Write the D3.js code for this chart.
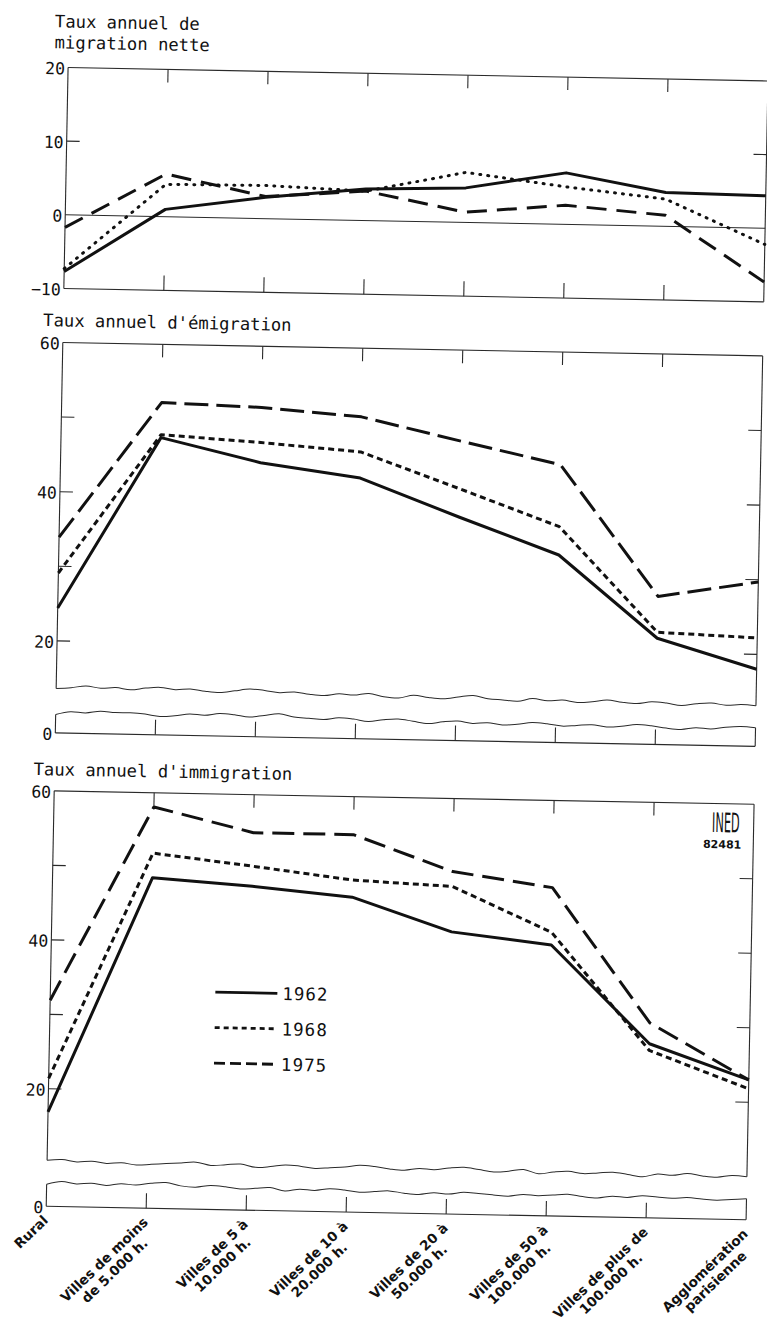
<!DOCTYPE html>
<html>
<head>
<meta charset="utf-8">
<script src="https://cdn.jsdelivr.net/npm/d3@7"></script>
<style>
  body { margin: 0; background: #fff; }
  svg { display: block; }
</style>
</head>
<body>
<div id="chart"></div>
<script>
"use strict";

// categories (each entry = lines of the rotated x label)
var categories = [
  ["Rural"],
  ["Villes de moins", "de 5.000 h."],
  ["Villes de 5 à", "10.000 h."],
  ["Villes de 10 à", "20.000 h."],
  ["Villes de 20 à", "50.000 h."],
  ["Villes de 50 à", "100.000 h."],
  ["Villes de plus de", "100.000 h."],
  ["Agglomération", "parisienne"]
];
var years = ["1962", "1968", "1975"];

// taux annuel de migration nette
var net1962 = [-7.7, 1.0, 2.9, 4.3, 4.7, 7.0, 4.6, 4.4];
var net1968 = [-7.3, 4.4, 4.5, 4.0, 6.8, 5.1, 3.7, -2.2];
var net1975 = [-1.7, 5.8, 3.0, 4.0, 1.4, 2.6, 1.5, -7.3];

// taux annuel d'emigration
var emi1962 = [24.4, 47.5, 44.4, 42.6, 37.6, 32.8, 21.9, 18.0];
var emi1968 = [29.1, 47.9, 47.1, 46.1, 41.4, 36.6, 22.7, 22.2];
var emi1975 = [33.9, 52.2, 51.8, 50.8, 47.8, 44.9, 27.5, 29.7];

// taux annuel d'immigration
var imm1962 = [16.9, 48.6, 47.7, 46.5, 42.1, 40.6, 27.6, 23.0];
var imm1968 = [21.4, 51.9, 50.4, 48.8, 48.2, 42.3, 26.7, 21.8];
var imm1975 = [31.9, 58.1, 54.9, 54.9, 50.2, 48.3, 30.4, 23.0];

// tick labels
var netTickLabels = [20, 10, 0, -10];
var netMinorTicks = [10];
var rateTickLabels = [60, 40, 20];
var rateMinorTicks = [50, 40, 30, 20];

// hand drawn axis-break lines (pixel offsets)
var waveEmiTop = [0, -1, -3, -1, -2, 0, -2, -3, -1, -2, 0, 1, -1, -3, -2, 0, -1, 1, 2, 0, 1, -1, 2, 3, 0, 2, 3, 1, -1, 2, 3, 4, 1, 3, 2, 4, 3, 1, 3, 4, 2, 3, 5, 3, 2, 4, 3, 4];
var waveEmiBot = [0, -3, -2, -4, -3, -3, -2, 0, -1, -3, -2, -4, -3, -1, -3, -5, -2, -1, 0, -2, -1, 1, -1, -2, 0, 2, 0, -1, 1, 0, 2, 1, -1, 0, 2, 1, 0, 2, 1, -1, 0, 2, 3, 1, 2, 0, -1, 0];
var waveImmTop = [0, -1, 1, 0, 2, 1, 3, 2, 1, 0, -1, 2, 1, 0, 3, 2, 0, 1, 3, 2, 1, -1, 0, 2, 3, 1, 2, 0, -1, 1, 3, 2, 0, 4, 2, 1, 3, 2, 1, 3, 5, 2, 3, 1, 3, 4, 2, 3];
var waveImmBot = [0, -3, -1, -2, 0, -2, -1, -3, -4, -1, 0, -2, -1, 1, 0, -1, 2, 0, 1, -1, 0, 2, 1, 0, 2, 3, 1, 2, 0, 1, 2, 3, 1, 2, 1, 0, 2, 3, 1, 2, 0, 1, 2, 1, 2, 3, 2, 1];

var W = 767, H = 1327;
var X0 = 56, X1 = 756;

var svg = d3.select("#chart").append("svg")
  .attr("width", W)
  .attr("height", H)
  .attr("style", "background:#fff;");

// the printed page is scanned slightly skewed
var root = svg.append("g").attr("transform", "rotate(1.1,400,700)");

var catKeys = categories.map(function(c){ return c.join(" "); });
var x = d3.scalePoint().domain(catKeys).range([X0, X1]);

var mono = "'DejaVu Sans Mono', monospace";
var ink = "#111";
var frameInk = "#2a2a2a";

var panels = [
  {
    title: ["Taux annuel de", "migration nette"], titleX: 42, titleY: 34,
    series: [net1962, net1968, net1975],
    domain: [-10, 20], range: [295, 74],
    top: 74, bottom: 295,
    labels: netTickLabels, minor: netMinorTicks, zero: true,
    dash: [null, "1,7", "20,10"], cap: ["butt", "round", "butt"]
  },
  {
    title: ["Taux annuel d'émigration"], titleX: 36, titleY: 333,
    series: [emi1962, emi1968, emi1975],
    domain: [20, 60], range: [647.5, 349],
    top: 349, bottom: 739.5, waveTop: 695, waveBot: 721,
    waves: [waveEmiTop, waveEmiBot],
    labels: rateTickLabels, minor: rateMinorTicks, zeroLabel: true,
    dash: [null, "6,4", "24,8"], cap: ["butt", "butt", "butt"]
  },
  {
    title: ["Taux annuel d'immigration"], titleX: 35, titleY: 782,
    series: [imm1962, imm1968, imm1975],
    domain: [20, 60], range: [1095.5, 797.5],
    top: 797.5, bottom: 1213, waveTop: 1167, waveBot: 1191,
    waves: [waveImmTop, waveImmBot],
    labels: rateTickLabels, minor: rateMinorTicks, zeroLabel: true,
    dash: [null, "6,4", "22,9"], cap: ["butt", "butt", "butt"]
  }
];

var waveLine = d3.line().curve(d3.curveCatmullRom);

function wavePoints(base, offsets){
  var step = (X1 - X0) / (offsets.length - 1);
  return offsets.map(function(o, i){ return [X0 + i * step, base + o]; });
}

function drawPanel(p){
  var g = root.append("g");
  var y = d3.scaleLinear().domain(p.domain).range(p.range);

  // title
  g.selectAll("text.title")
    .data(p.title)
    .enter()
      .append("text")
        .attr("class", "title")
        .attr("x", p.titleX)
        .attr("y", function(d, i){ return p.titleY + i * 21; })
        .attr("font-family", mono)
        .attr("font-size", "17.2px")
        .attr("fill", ink)
        .text(function(d){ return d; });

  var frame = g.append("g")
    .attr("stroke", frameInk)
    .attr("stroke-width", 1.1)
    .attr("fill", "none");

  frame.append("line").attr("x1", X0).attr("x2", X1).attr("y1", p.top).attr("y2", p.top);
  frame.append("line").attr("x1", X0).attr("x2", X1).attr("y1", p.bottom).attr("y2", p.bottom);

  if(p.waves){
    var wt = wavePoints(p.waveTop, p.waves[0]);
    var wb = wavePoints(p.waveBot, p.waves[1]);
    frame.append("path").attr("d", waveLine(wt)).attr("stroke-width", 1);
    frame.append("path").attr("d", waveLine(wb)).attr("stroke-width", 1);
    [[X0, 0], [X1, wt.length - 1]].forEach(function(s){
      frame.append("line").attr("x1", s[0]).attr("x2", s[0])
        .attr("y1", p.top).attr("y2", wt[s[1]][1]);
      frame.append("line").attr("x1", s[0]).attr("x2", s[0])
        .attr("y1", wb[s[1]][1]).attr("y2", p.bottom);
    });
  }
  else{
    frame.append("line").attr("x1", X0).attr("x2", X0).attr("y1", p.top).attr("y2", p.bottom);
    frame.append("line").attr("x1", X1).attr("x2", X1).attr("y1", p.top).attr("y2", p.bottom);
  }

  if(p.zero){
    frame.append("line").attr("x1", X0).attr("x2", X1)
      .attr("y1", y(0)).attr("y2", y(0)).attr("stroke-width", 1);
  }

  // category ticks, top (down) and bottom (up)
  var inner = catKeys.slice(1, -1);
  frame.selectAll("line.ttop")
    .data(inner)
    .enter()
      .append("line")
        .attr("x1", function(d){ return x(d); })
        .attr("x2", function(d){ return x(d); })
        .attr("y1", p.top)
        .attr("y2", p.top + 13);
  frame.selectAll("line.tbot")
    .data(inner)
    .enter()
      .append("line")
        .attr("x1", function(d){ return x(d); })
        .attr("x2", function(d){ return x(d); })
        .attr("y1", p.bottom)
        .attr("y2", p.bottom - 15);

  // value ticks both sides, inward
  p.minor.forEach(function(v){
    frame.append("line").attr("x1", X0).attr("x2", X0 + 13).attr("y1", y(v)).attr("y2", y(v));
    frame.append("line").attr("x1", X1).attr("x2", X1 - 13).attr("y1", y(v)).attr("y2", y(v));
  });

  // value labels
  var lab = p.labels.map(function(v){ return {t: v < 0 ? "\u2212" + Math.abs(v) : String(v), y: y(v)}; });
  if(p.zeroLabel){ lab.push({t: "0", y: p.bottom}); }
  g.selectAll("text.ylab")
    .data(lab)
    .enter()
      .append("text")
        .attr("class", "ylab")
        .attr("x", X0 - 3)
        .attr("y", function(d){ return d.y + 7; })
        .attr("text-anchor", "end")
        .attr("font-family", mono)
        .attr("font-size", "16.5px")
        .attr("fill", ink)
        .text(function(d){ return d.t; });

  // the three years
  var line = d3.line()
    .x(function(d, i){ return x(catKeys[i]); })
    .y(function(d){ return y(d); });

  g.selectAll("path.serie")
    .data(p.series)
    .enter()
      .append("path")
        .attr("class", "serie")
        .attr("d", line)
        .attr("fill", "none")
        .attr("stroke", ink)
        .attr("stroke-width", 3)
        .attr("stroke-linejoin", "round")
        .attr("stroke-linecap", function(d, i){ return p.cap[i]; })
        .attr("stroke-dasharray", function(d, i){ return p.dash[i]; });
}

panels.forEach(drawPanel);

// legend
var legendDash = [null, "5,4", "11,5"];
var leg = root.append("g");
years.forEach(function(yr, i){
  var ly = 995.6 + i * 35.5;
  leg.append("line")
    .attr("x1", 221).attr("x2", 283)
    .attr("y1", ly).attr("y2", ly)
    .attr("stroke", ink)
    .attr("stroke-width", 2.8)
    .attr("stroke-dasharray", legendDash[i]);
  leg.append("text")
    .attr("x", 288)
    .attr("y", ly + 6.5)
    .attr("font-family", mono)
    .attr("font-size", "17.5px")
    .attr("letter-spacing", "1px")
    .attr("fill", ink)
    .text(yr);
});

// INED mark
root.append("text")
  .attr("transform", "translate(742,826) scale(0.42,1)")
  .attr("text-anchor", "end")
  .attr("font-family", "'DejaVu Sans', sans-serif")
  .attr("font-size", "27px")
  .attr("fill", ink)
  .text("INED");
root.append("text")
  .attr("x", 744)
  .attr("y", 842)
  .attr("text-anchor", "end")
  .attr("font-family", "'DejaVu Sans', sans-serif")
  .attr("font-weight", "bold")
  .attr("font-size", "11px")
  .attr("fill", ink)
  .text("82481");

// rotated category labels under the last panel
var xl = root.append("g");
categories.forEach(function(c, i){
  var lg = xl.append("g")
    .attr("transform", "translate(" + (x(catKeys[i]) + 3) + "," + (1213 + 15) + ") rotate(-45)");
  var texts = lg.selectAll("text")
    .data(c)
    .enter()
      .append("text")
        .attr("y", function(d, k){ return k * 15; })
        .attr("text-anchor", "end")
        .attr("font-family", "'DejaVu Sans', sans-serif")
        .attr("font-weight", "bold")
        .attr("font-size", "13.5px")
        .attr("fill", ink)
        .text(function(d){ return d; });
  var lens = [];
  texts.each(function(){ lens.push(this.getComputedTextLength()); });
  var maxLen = d3.max(lens);
  texts.attr("x", function(d, k){ return -(maxLen - lens[k]) / 2; });
});
</script>
</body>
</html>
